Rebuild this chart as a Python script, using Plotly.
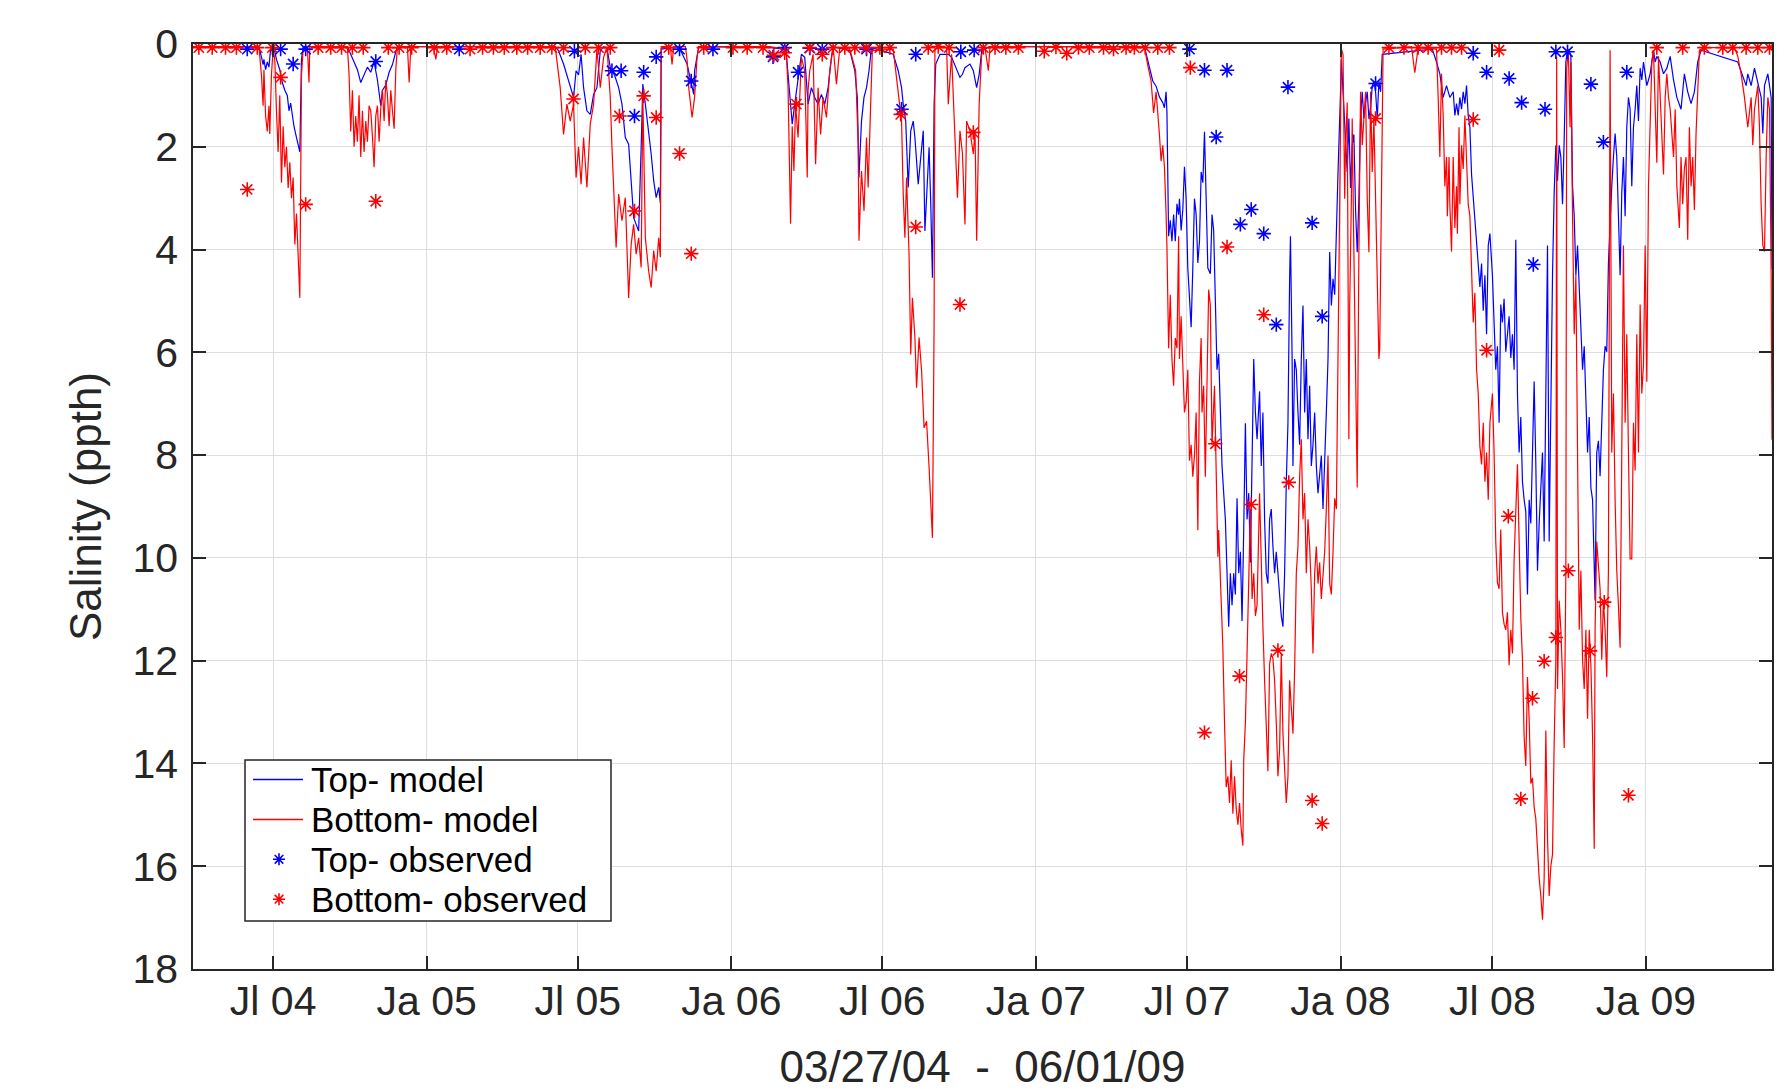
import plotly.graph_objects as go

# ---------------- data ----------------
tick_dates = ['2004-07-01', '2005-01-01', '2005-07-01', '2006-01-01', '2006-07-01',
              '2007-01-01', '2007-07-01', '2008-01-01', '2008-07-01', '2009-01-01']
tick_labels = ['Jl 04', 'Ja 05', 'Jl 05', 'Ja 06', 'Jl 06', 'Ja 07', 'Jl 07', 'Ja 08', 'Jl 08', 'Ja 09']
y_ticks = [0, 2, 4, 6, 8, 10, 12, 14, 16, 18]

top_model_dates = [
    '2004-03-27', '2004-06-12', '2004-06-14', '2004-06-17', '2004-06-19', '2004-06-20', '2004-06-22', '2004-06-24',
    '2004-06-26', '2004-06-28', '2004-07-03', '2004-07-05', '2004-07-09', '2004-07-12', '2004-07-15', '2004-07-18',
    '2004-07-20', '2004-07-22', '2004-07-24', '2004-07-26', '2004-07-28', '2004-07-30', '2004-08-02', '2004-08-04',
    '2004-08-06', '2004-09-28', '2004-10-02', '2004-10-06', '2004-10-10', '2004-10-14', '2004-10-18', '2004-10-22',
    '2004-10-26', '2004-10-30', '2004-11-03', '2004-11-07', '2004-11-09', '2004-11-13', '2004-11-17', '2004-11-21',
    '2004-11-25', '2004-11-27',
    '2005-06-04', '2005-06-08', '2005-06-14', '2005-06-18', '2005-06-22', '2005-06-26', '2005-06-29', '2005-07-02',
    '2005-07-05', '2005-07-08', '2005-07-12', '2005-07-16', '2005-07-20', '2005-07-24', '2005-07-28', '2005-08-01',
    '2005-08-05', '2005-08-09', '2005-08-14', '2005-08-19', '2005-08-23', '2005-08-27', '2005-08-31', '2005-09-03',
    '2005-09-06', '2005-09-09', '2005-09-12', '2005-09-15', '2005-09-17', '2005-09-20', '2005-09-24', '2005-09-27',
    '2005-09-30', '2005-10-03', '2005-10-06', '2005-10-08', '2005-10-09', '2005-10-30', '2005-11-09', '2005-11-13',
    '2005-11-15', '2005-11-17', '2005-11-18', '2005-11-21', '2005-11-23',
    '2006-02-16', '2006-03-06', '2006-03-08', '2006-03-12', '2006-03-15', '2006-03-18', '2006-03-22', '2006-03-26',
    '2006-03-30', '2006-04-03', '2006-04-07', '2006-04-11', '2006-04-15', '2006-04-19', '2006-04-23', '2006-04-27',
    '2006-05-01', '2006-05-03', '2006-05-23', '2006-05-29', '2006-06-01', '2006-06-03', '2006-06-06', '2006-06-09',
    '2006-06-12', '2006-06-15', '2006-06-18', '2006-07-14', '2006-07-20', '2006-07-24', '2006-07-26', '2006-07-29',
    '2006-08-01', '2006-08-04', '2006-08-07', '2006-08-09', '2006-08-13', '2006-08-16', '2006-08-19', '2006-08-21',
    '2006-08-24', '2006-08-26', '2006-08-28', '2006-08-30', '2006-09-01', '2006-09-03', '2006-09-08', '2006-09-18',
    '2006-09-22', '2006-09-29', '2006-10-02', '2006-10-05', '2006-10-08', '2006-10-14', '2006-10-18', '2006-10-22',
    '2006-10-25', '2006-10-28', '2006-11-07',
    '2007-05-11', '2007-05-15', '2007-05-21', '2007-05-25', '2007-05-29', '2007-06-02', '2007-06-04', '2007-06-06',
    '2007-06-07', '2007-06-09', '2007-06-11', '2007-06-13', '2007-06-15', '2007-06-17', '2007-06-19', '2007-06-21',
    '2007-06-22', '2007-06-24', '2007-06-26', '2007-06-28', '2007-06-30', '2007-07-02', '2007-07-04', '2007-07-06',
    '2007-07-08', '2007-07-10', '2007-07-12', '2007-07-14', '2007-07-16', '2007-07-18', '2007-07-20', '2007-07-22',
    '2007-07-24', '2007-07-26', '2007-07-29', '2007-07-31', '2007-08-02', '2007-08-04', '2007-08-06', '2007-08-08',
    '2007-08-10', '2007-08-12', '2007-08-14', '2007-08-16', '2007-08-18', '2007-08-20', '2007-08-22', '2007-08-24',
    '2007-08-26', '2007-08-28', '2007-08-30', '2007-09-01', '2007-09-03', '2007-09-05', '2007-09-07', '2007-09-09',
    '2007-09-11', '2007-09-13', '2007-09-15', '2007-09-17', '2007-09-19', '2007-09-21', '2007-09-23', '2007-09-26',
    '2007-09-28', '2007-09-30', '2007-10-02', '2007-10-04', '2007-10-06', '2007-10-08', '2007-10-10', '2007-10-12',
    '2007-10-14', '2007-10-16', '2007-10-18', '2007-10-20', '2007-10-22', '2007-10-24', '2007-10-26', '2007-10-28',
    '2007-10-30', '2007-11-01', '2007-11-02', '2007-11-04', '2007-11-05', '2007-11-07', '2007-11-09', '2007-11-11',
    '2007-11-13', '2007-11-15', '2007-11-17', '2007-11-19', '2007-11-21', '2007-11-23', '2007-11-25', '2007-11-27',
    '2007-11-29', '2007-12-01', '2007-12-03', '2007-12-05', '2007-12-07', '2007-12-09', '2007-12-11', '2007-12-13',
    '2007-12-15', '2007-12-17', '2007-12-19', '2007-12-21', '2007-12-23', '2007-12-25', '2007-12-27', '2007-12-29',
    '2008-01-01', '2008-01-02', '2008-01-04', '2008-01-07', '2008-01-09', '2008-01-11', '2008-01-13', '2008-01-15',
    '2008-01-17', '2008-01-19', '2008-01-21', '2008-01-23', '2008-01-25', '2008-01-27', '2008-01-29', '2008-01-31',
    '2008-02-02', '2008-02-04', '2008-02-06', '2008-02-08', '2008-02-10', '2008-02-12', '2008-02-14', '2008-02-16',
    '2008-02-18', '2008-02-20',
    '2008-04-20', '2008-04-25', '2008-04-29', '2008-05-03', '2008-05-07', '2008-05-11', '2008-05-15', '2008-05-17',
    '2008-05-19', '2008-05-21', '2008-05-23', '2008-05-25', '2008-05-27', '2008-05-29', '2008-05-31', '2008-06-02',
    '2008-06-04', '2008-06-06', '2008-06-08', '2008-06-10', '2008-06-12', '2008-06-14', '2008-06-16', '2008-06-18',
    '2008-06-20', '2008-06-22', '2008-06-24', '2008-06-26', '2008-06-28', '2008-07-01', '2008-07-03', '2008-07-05',
    '2008-07-07', '2008-07-09', '2008-07-11', '2008-07-13', '2008-07-15', '2008-07-17', '2008-07-19', '2008-07-21',
    '2008-07-23', '2008-07-25', '2008-07-27', '2008-07-29', '2008-07-31', '2008-08-02', '2008-08-04', '2008-08-06',
    '2008-08-08', '2008-08-10', '2008-08-12', '2008-08-14', '2008-08-16', '2008-08-18', '2008-08-20', '2008-08-22',
    '2008-08-24', '2008-08-26', '2008-08-28', '2008-08-30', '2008-09-01', '2008-09-03', '2008-09-05', '2008-09-07',
    '2008-09-09', '2008-09-11', '2008-09-13', '2008-09-15', '2008-09-17', '2008-09-19', '2008-09-21', '2008-09-23',
    '2008-09-25', '2008-09-27', '2008-09-29', '2008-10-01', '2008-10-03', '2008-10-05', '2008-10-07', '2008-10-09',
    '2008-10-11', '2008-10-13', '2008-10-15', '2008-10-17', '2008-10-19', '2008-10-21', '2008-10-23', '2008-10-25',
    '2008-10-27', '2008-10-29', '2008-11-01', '2008-11-03', '2008-11-05', '2008-11-07', '2008-11-09', '2008-11-11',
    '2008-11-13', '2008-11-15', '2008-11-17', '2008-11-19', '2008-11-21', '2008-11-23', '2008-11-25', '2008-11-27',
    '2008-11-29', '2008-12-01', '2008-12-03', '2008-12-05', '2008-12-07', '2008-12-09', '2008-12-11', '2008-12-13',
    '2008-12-15', '2008-12-17', '2008-12-19', '2008-12-21', '2008-12-23', '2008-12-25', '2008-12-27', '2008-12-29',
    '2008-12-31', '2009-01-02', '2009-01-04', '2009-01-06', '2009-01-10', '2009-01-12', '2009-01-14', '2009-01-18',
    '2009-01-22', '2009-01-26', '2009-01-30', '2009-02-03', '2009-02-07', '2009-02-12', '2009-02-16', '2009-02-20',
    '2009-02-24', '2009-02-28', '2009-03-04', '2009-03-08', '2009-04-21', '2009-05-01', '2009-05-03', '2009-05-07',
    '2009-05-11', '2009-05-19', '2009-05-21', '2009-05-23', '2009-05-27', '2009-05-31', '2009-06-01']
top_model_vals = [
    0.05, 0.05, 0.05, 0.25, 0.4, 0.3, 0.5, 0.35,
    0.45, 0.1, 0.15, 0.3, 0.5, 0.75, 0.9, 1.0,
    1.3, 1.15, 1.4, 1.6, 1.75, 1.9, 2.1, 0.3,
    0.05, 0.05, 0.2, 0.35, 0.5, 0.75, 0.6, 0.45,
    0.55, 0.35, 0.7, 1.2, 0.9, 0.8, 0.55, 0.4,
    0.15, 0.05,
    0.05, 0.13, 0.39, 0.6, 0.85, 1.04, 0.52, 0.6,
    0.2, 0.85, 1.3, 1.37, 0.98, 0.85, 0.13, 0.05,
    0.07, 0.46, 0.6, 0.85, 1.17, 1.82, 1.95, 2.73,
    3.38, 3.51, 3.64, 2.01, 0.78, 1.17, 1.69, 2.14,
    2.66, 2.99, 2.79, 3.1, 0.1, 0.05, 0.39, 0.72,
    0.85, 0.98, 0.52, 0.2, 0.05,
    0.07, 0.1, 0.2, 1.04, 1.56, 1.17, 0.72, 0.2,
    0.26, 1.17, 0.85, 1.04, 1.17, 0.98, 1.17, 0.85,
    0.26, 0.05, 0.13, 0.52, 1.04, 2.6, 1.5, 1.04,
    0.85, 0.52, 0.07, 0.2, 0.52, 0.85, 1.17, 1.5,
    2.79, 1.69, 1.5, 1.82, 2.73, 2.14, 1.69, 3.64,
    2.6, 2.01, 3.12, 4.55, 1.17, 0.39, 0.2, 0.2,
    0.26, 0.52, 0.65, 0.59, 0.46, 0.39, 0.52, 0.85,
    0.59, 0.13, 0.05,
    0.05, 0.3, 0.72, 0.82, 1.03, 1.14, 1.24, 0.93,
    1.34, 3.74, 3.43, 3.84, 3.32, 3.84, 3.11, 3.32,
    3.01, 3.63, 3.22, 2.39, 3.01, 4.36, 4.88, 5.51,
    4.36, 3.01, 3.32, 4.26, 3.84, 2.49, 2.7, 1.71,
    3.01, 4.36, 4.47, 3.32, 3.63, 4.78, 6.34, 6.03,
    7.17, 8.21, 8.74, 9.25, 10.3, 11.34, 10.3, 10.92,
    10.3, 10.71, 8.84, 10.3, 9.88, 11.23, 9.46, 7.38,
    9.25, 8.74, 10.09, 8.21, 6.13, 7.17, 7.69, 6.76,
    8.21, 7.17, 9.25, 10.3, 10.5, 9.25, 9.05, 9.78,
    10.3, 9.88, 10.3, 10.71, 11.13, 11.34, 10.3, 8.53,
    7.38, 4.57, 3.74, 6.13, 8.21, 6.13, 6.34, 7.17,
    7.8, 6.13, 5.09, 7.17, 6.13, 7.69, 6.65, 8.21,
    7.8, 7.17, 8.21, 8.74, 8.42, 8.01, 9.05, 8.21,
    7.17, 6.13, 4.05, 5.09, 4.57, 4.88, 3.53, 2.49,
    0.93, 0.3, 0.93, 1.97, 2.49, 1.45, 2.8, 1.97,
    1.76, 3.22, 4.05, 3.01, 1.45, 0.93, 1.45, 1.14,
    0.93, 1.45, 1.24, 0.82, 0.72, 0.93, 1.45, 0.72,
    0.93, 0.2,
    0.1, 0.35, 0.58, 1.04, 0.81, 1.04, 0.93, 1.39,
    1.16, 1.39, 1.04, 1.27, 0.93, 1.16, 0.81, 1.39,
    1.62, 2.54, 3.0, 3.35, 3.81, 4.27, 4.73, 4.27,
    5.19, 4.5, 5.65, 3.92, 3.69, 4.5, 5.3, 6.34,
    5.88, 7.37, 5.07, 5.42, 4.96, 5.99, 5.65, 5.3,
    6.11, 5.65, 6.34, 3.81, 6.8, 7.95, 7.26, 8.52,
    8.87, 9.1, 10.71, 8.87, 9.33, 7.95, 6.57, 8.18,
    10.25, 9.33, 8.64, 7.95, 9.68, 6.8, 3.92, 9.68,
    6.8, 4.5, 2.89, 1.97, 2.66, 1.97, 2.2, 3.12,
    1.85, 0.35, 0.12, 0.12, 0.24, 2.77, 3.35, 4.5,
    3.92, 4.73, 5.3, 6.34, 5.88, 6.8, 7.95, 7.26,
    8.64, 8.87, 10.83, 7.95, 7.72, 8.41, 7.26, 6.34,
    5.88, 5.99, 4.27, 3.35, 2.77, 2.2, 1.74, 2.2,
    3.35, 4.5, 2.89, 2.2, 3.35, 1.62, 1.04, 1.27,
    2.77, 1.62, 1.27, 0.81, 1.5, 0.47, 0.7, 0.35,
    0.58, 0.81, 0.7, 0.58, 0.12, 0.35, 0.24, 0.35,
    0.58, 0.47, 0.24, 0.7, 1.04, 1.27, 0.58, 0.93,
    1.16, 0.93, 0.35, 0.12, 0.35, 0.81, 0.58, 0.81,
    0.47, 1.04, 1.74, 0.81, 0.58, 1.04, 4.38]

bottom_model_dates = [
    '2004-03-27', '2004-06-14', '2004-06-17', '2004-06-19', '2004-06-20', '2004-06-22', '2004-06-24', '2004-06-26',
    '2004-06-27', '2004-06-29', '2004-07-01', '2004-07-03', '2004-07-05', '2004-07-07', '2004-07-09', '2004-07-11',
    '2004-07-13', '2004-07-15', '2004-07-17', '2004-07-19', '2004-07-21', '2004-07-23', '2004-07-25', '2004-07-27',
    '2004-07-29', '2004-07-31', '2004-08-02', '2004-08-04', '2004-08-06', '2004-08-11', '2004-08-13', '2004-08-14',
    '2004-09-28', '2004-09-30', '2004-10-02', '2004-10-04', '2004-10-06', '2004-10-08', '2004-10-10', '2004-10-12',
    '2004-10-14', '2004-10-16', '2004-10-18', '2004-10-20', '2004-10-22', '2004-10-24', '2004-10-26', '2004-10-28',
    '2004-10-30', '2004-11-01', '2004-11-03', '2004-11-05', '2004-11-07', '2004-11-09', '2004-11-11', '2004-11-13',
    '2004-11-15', '2004-11-17', '2004-11-19', '2004-11-21', '2004-11-23', '2004-11-25', '2004-11-27', '2004-12-09',
    '2004-12-11', '2004-12-13', '2005-01-09', '2005-01-12', '2005-01-14',
    '2005-06-04', '2005-06-10', '2005-06-14', '2005-06-18', '2005-06-22', '2005-06-26', '2005-06-29', '2005-07-02',
    '2005-07-05', '2005-07-08', '2005-07-12', '2005-07-16', '2005-07-20', '2005-07-24', '2005-07-28', '2005-08-01',
    '2005-08-05', '2005-08-09', '2005-08-11', '2005-08-14', '2005-08-16', '2005-08-19', '2005-08-23', '2005-08-27',
    '2005-08-31', '2005-09-03', '2005-09-06', '2005-09-09', '2005-09-12', '2005-09-15', '2005-09-17', '2005-09-20',
    '2005-09-24', '2005-09-27', '2005-09-30', '2005-10-03', '2005-10-06', '2005-10-08', '2005-10-09', '2005-10-20',
    '2005-10-22', '2005-10-24', '2005-11-07', '2005-11-09', '2005-11-11', '2005-11-15', '2005-11-18', '2005-11-21',
    '2005-11-23',
    '2006-02-16', '2006-03-06', '2006-03-08', '2006-03-10', '2006-03-13', '2006-03-15', '2006-03-17', '2006-03-19',
    '2006-03-22', '2006-03-26', '2006-03-30', '2006-04-02', '2006-04-03', '2006-04-05', '2006-04-09', '2006-04-12',
    '2006-04-15', '2006-04-18', '2006-04-21', '2006-04-25', '2006-04-29', '2006-05-03', '2006-05-07', '2006-05-11',
    '2006-05-23', '2006-05-30', '2006-06-02', '2006-06-03', '2006-06-06', '2006-06-09', '2006-06-12', '2006-06-14',
    '2006-06-17', '2006-06-19', '2006-07-14', '2006-07-16', '2006-07-20', '2006-07-24', '2006-07-26', '2006-07-28',
    '2006-07-30', '2006-08-02', '2006-08-04', '2006-08-06', '2006-08-09', '2006-08-11', '2006-08-14', '2006-08-17',
    '2006-08-20', '2006-08-23', '2006-08-26', '2006-08-28', '2006-08-30', '2006-09-01', '2006-09-02', '2006-09-06',
    '2006-09-16', '2006-09-18', '2006-09-22', '2006-09-26', '2006-09-29', '2006-10-02', '2006-10-05', '2006-10-08',
    '2006-10-10', '2006-10-14', '2006-10-18', '2006-10-20', '2006-10-22', '2006-10-25', '2006-10-28', '2006-11-01',
    '2006-11-05', '2006-11-07',
    '2007-05-11', '2007-05-15', '2007-05-19', '2007-05-22', '2007-05-25', '2007-05-29', '2007-05-31', '2007-06-02',
    '2007-06-04', '2007-06-06', '2007-06-07', '2007-06-09', '2007-06-11', '2007-06-13', '2007-06-15', '2007-06-17',
    '2007-06-19', '2007-06-21', '2007-06-22', '2007-06-24', '2007-06-26', '2007-06-28', '2007-06-30', '2007-07-02',
    '2007-07-04', '2007-07-06', '2007-07-08', '2007-07-10', '2007-07-12', '2007-07-14', '2007-07-16', '2007-07-18',
    '2007-07-19', '2007-07-21', '2007-07-23', '2007-07-25', '2007-07-27', '2007-07-29', '2007-07-31', '2007-08-03',
    '2007-08-05', '2007-08-07', '2007-08-08', '2007-08-11', '2007-08-13', '2007-08-15', '2007-08-17', '2007-08-19',
    '2007-08-21', '2007-08-23', '2007-08-25', '2007-08-27', '2007-08-29', '2007-08-31', '2007-09-02', '2007-09-04',
    '2007-09-06', '2007-09-07', '2007-09-09', '2007-09-11', '2007-09-13', '2007-09-15', '2007-09-17', '2007-09-19',
    '2007-09-21', '2007-09-23', '2007-09-26', '2007-09-28', '2007-09-30', '2007-10-02', '2007-10-04', '2007-10-06',
    '2007-10-08', '2007-10-10', '2007-10-12', '2007-10-14', '2007-10-16', '2007-10-18', '2007-10-20', '2007-10-22',
    '2007-10-24', '2007-10-26', '2007-10-28', '2007-10-30', '2007-11-01', '2007-11-03', '2007-11-05', '2007-11-07',
    '2007-11-09', '2007-11-11', '2007-11-13', '2007-11-15', '2007-11-17', '2007-11-19', '2007-11-21', '2007-11-23',
    '2007-11-25', '2007-11-27', '2007-11-29', '2007-12-01', '2007-12-03', '2007-12-05', '2007-12-07', '2007-12-09',
    '2007-12-11', '2007-12-13', '2007-12-15', '2007-12-17', '2007-12-19', '2007-12-21', '2007-12-23', '2007-12-25',
    '2007-12-27', '2007-12-29', '2008-01-01', '2008-01-02', '2008-01-04', '2008-01-06', '2008-01-07', '2008-01-09',
    '2008-01-11', '2008-01-12', '2008-01-14', '2008-01-15', '2008-01-17', '2008-01-19', '2008-01-21', '2008-01-23',
    '2008-01-25', '2008-01-27', '2008-01-29', '2008-01-31', '2008-02-02', '2008-02-04', '2008-02-06', '2008-02-08',
    '2008-02-10', '2008-02-12', '2008-02-14', '2008-02-16', '2008-02-17', '2008-02-19', '2008-02-21',
    '2008-03-26', '2008-03-30', '2008-04-03', '2008-04-25', '2008-04-27', '2008-04-29', '2008-05-01', '2008-05-03',
    '2008-05-05', '2008-05-07', '2008-05-08', '2008-05-10', '2008-05-11', '2008-05-13', '2008-05-15', '2008-05-17',
    '2008-05-19', '2008-05-20', '2008-05-22', '2008-05-23', '2008-05-25', '2008-05-27', '2008-05-29', '2008-05-31',
    '2008-06-02', '2008-06-04', '2008-06-06', '2008-06-08', '2008-06-10', '2008-06-12', '2008-06-14', '2008-06-16',
    '2008-06-18', '2008-06-20', '2008-06-22', '2008-06-24', '2008-06-26', '2008-06-28', '2008-07-01', '2008-07-03',
    '2008-07-05', '2008-07-07', '2008-07-09', '2008-07-11', '2008-07-13', '2008-07-15', '2008-07-17', '2008-07-19',
    '2008-07-21', '2008-07-23', '2008-07-25', '2008-07-27', '2008-07-29', '2008-07-31', '2008-08-02', '2008-08-04',
    '2008-08-06', '2008-08-08', '2008-08-10', '2008-08-12', '2008-08-14', '2008-08-16', '2008-08-18', '2008-08-20',
    '2008-08-22', '2008-08-24', '2008-08-26', '2008-08-28', '2008-08-30', '2008-09-01', '2008-09-03', '2008-09-05',
    '2008-09-07', '2008-09-09', '2008-09-11', '2008-09-13', '2008-09-15', '2008-09-16', '2008-09-17', '2008-09-19',
    '2008-09-21', '2008-09-23', '2008-09-25', '2008-09-26', '2008-09-27', '2008-09-28', '2008-09-30', '2008-10-02',
    '2008-10-03', '2008-10-05', '2008-10-07', '2008-10-09', '2008-10-11', '2008-10-13', '2008-10-15', '2008-10-17',
    '2008-10-19', '2008-10-21', '2008-10-23', '2008-10-25', '2008-10-27', '2008-10-29', '2008-10-31', '2008-11-01',
    '2008-11-03', '2008-11-05', '2008-11-07', '2008-11-09', '2008-11-11', '2008-11-13', '2008-11-15', '2008-11-17',
    '2008-11-19', '2008-11-21', '2008-11-23', '2008-11-25', '2008-11-27', '2008-11-29', '2008-12-01', '2008-12-03',
    '2008-12-05', '2008-12-07', '2008-12-09', '2008-12-11', '2008-12-13', '2008-12-15', '2008-12-17', '2008-12-19',
    '2008-12-21', '2008-12-23', '2008-12-25', '2008-12-27', '2008-12-29', '2008-12-31', '2009-01-02', '2009-01-04',
    '2009-01-06', '2009-01-08', '2009-01-10', '2009-01-12', '2009-01-14', '2009-01-16', '2009-01-18', '2009-01-20',
    '2009-01-22', '2009-01-24', '2009-01-26', '2009-01-28', '2009-01-30', '2009-02-01', '2009-02-03', '2009-02-05',
    '2009-02-07', '2009-02-10', '2009-02-12', '2009-02-14', '2009-02-16', '2009-02-18', '2009-02-20', '2009-02-22',
    '2009-02-24', '2009-02-26', '2009-02-28', '2009-03-02', '2009-03-04', '2009-03-06', '2009-03-12', '2009-04-17',
    '2009-04-21', '2009-04-25', '2009-04-29', '2009-05-03', '2009-05-07', '2009-05-09', '2009-05-11', '2009-05-15',
    '2009-05-17', '2009-05-19', '2009-05-21', '2009-05-23', '2009-05-25', '2009-05-27', '2009-05-29', '2009-05-31',
    '2009-06-01']
bottom_model_vals = [
    0.05, 0.05, 0.6, 1.2, 0.5, 1.4, 1.7, 1.2,
    1.75, 0.6, 0.1, 0.3, 1.3, 2.1, 1.0, 2.7,
    1.6, 2.4, 2.0, 2.8, 2.3, 3.0, 2.6, 3.9,
    3.3, 4.2, 4.94, 0.6, 0.1, 0.05, 0.75, 0.05,
    0.05, 0.6, 1.7, 0.9, 2.0, 1.4, 1.9, 1.0,
    2.2, 1.3, 2.1, 1.5, 1.9, 1.2, 1.3, 1.8,
    2.4, 1.4, 1.2, 1.9, 1.25, 0.9, 1.5, 0.7,
    1.0, 1.6, 0.9, 1.3, 1.65, 0.5, 0.05, 0.05,
    0.75, 0.05, 0.05, 0.3, 0.05,
    0.05, 0.85, 1.76, 1.17, 1.5, 1.17, 2.6, 2.0,
    2.73, 1.82, 2.79, 1.56, 1.17, 0.1, 0.85, 0.26,
    0.05, 1.04, 2.0, 3.12, 3.96, 2.92, 3.44, 2.99,
    4.94, 3.9, 3.51, 4.09, 3.77, 4.35, 1.0, 3.77,
    4.42, 4.74, 4.02, 4.42, 3.77, 4.15, 0.05, 0.05,
    0.4, 0.05, 0.05, 0.3, 0.85, 1.43, 1.04, 0.26,
    0.05,
    0.05, 0.1, 0.2, 0.85, 3.5, 1.6, 2.47, 1.17,
    1.82, 0.26, 0.52, 2.6, 0.9, 0.52, 0.2, 2.34,
    0.85, 1.76, 1.04, 1.43, 0.52, 0.05, 0.78, 0.07,
    0.1, 0.52, 1.95, 3.83, 2.47, 3.25, 1.82, 2.79,
    1.17, 0.13, 0.1, 0.39, 0.85, 1.5, 2.92, 3.77,
    2.6, 4.09, 6.04, 4.94, 5.71, 6.69, 5.71, 6.36,
    7.47, 7.34, 8.24, 8.96, 9.61, 5.45, 0.1, 0.07,
    0.07, 1.17, 0.2, 1.82, 2.99, 1.69, 2.14, 3.51,
    1.5, 1.69, 2.14, 1.69, 3.83, 1.17, 0.2, 0.07,
    0.52, 0.05,
    0.05, 0.41, 0.72, 1.34, 0.93, 1.76, 2.28, 1.97,
    2.39, 3.32, 3.95, 5.92, 4.88, 6.13, 6.65, 5.72,
    5.92, 3.74, 6.13, 5.3, 6.34, 7.17, 6.97, 6.34,
    8.11, 7.8, 8.42, 8.01, 7.17, 9.46, 6.55, 5.72,
    7.17, 6.65, 8.42, 6.65, 4.78, 5.09, 7.8, 6.65,
    8.01, 9.98, 9.46, 10.92, 11.75, 13.21, 14.46, 14.25,
    14.77, 13.94, 14.98, 14.25, 14.88, 15.19, 14.77, 15.29,
    15.6, 13.94, 13.21, 11.86, 10.3, 9.05, 10.8, 10.3,
    11.13, 10.92, 8.74, 10.3, 11.34, 12.38, 13.42, 14.15,
    12.07, 11.86, 11.96, 12.38, 13.21, 14.25, 13.73, 11.86,
    13.42, 14.04, 14.77, 14.25, 12.38, 12.9, 13.42, 12.17,
    10.3, 9.78, 8.42, 7.69, 9.25, 8.74, 10.3, 9.25,
    9.78, 10.61, 11.86, 10.3, 9.78, 10.5, 10.09, 10.8,
    10.3, 9.88, 9.05, 8.01, 10.5, 10.71, 9.88, 8.84,
    9.05, 6.34, 1.76, 0.1, 0.2, 3.01, 1.97, 1.14,
    7.69, 5.09, 3.01, 1.45, 4.05, 6.13, 8.63, 4.05,
    0.93, 1.97, 1.45, 0.93, 3.01, 4.05, 0.93, 2.49,
    1.45, 3.01, 5.09, 6.13, 5.92, 3.01, 0.1,
    0.05, 0.56, 0.07, 0.1, 1.04, 2.2, 0.58, 1.39,
    2.77, 2.2, 3.35, 2.2, 3.12, 4.04, 2.2, 3.58,
    2.77, 3.69, 1.62, 3.12, 1.97, 2.43, 1.39, 2.2,
    3.12, 3.35, 4.27, 5.42, 4.84, 6.34, 6.8, 7.83,
    8.18, 7.37, 8.52, 7.95, 8.87, 7.37, 6.8, 7.95,
    9.68, 10.48, 10.6, 9.45, 11.06, 11.29, 11.4, 11.06,
    12.09, 11.4, 11.86, 10.02, 9.1, 8.18, 9.68, 11.17,
    11.98, 13.47, 14.05, 12.32, 13.13, 14.39, 14.28, 14.85,
    15.08, 15.77, 16.23, 16.58, 17.04, 16.23, 13.36, 15.43,
    16.58, 16.0, 15.77, 13.59, 11.98, 0.25, 12.55, 10.83,
    11.4, 12.32, 13.7, 11.98, 10.25, 0.47, 0.12, 1.62,
    0.35, 3.35, 5.65, 4.5, 7.95, 11.4, 10.25, 11.98,
    12.55, 11.4, 13.13, 11.4, 12.09, 13.47, 15.66, 11.4,
    9.68, 10.25, 10.6, 11.98, 10.83, 11.4, 12.32, 10.25,
    0.12, 7.95, 6.8, 8.87, 10.25, 10.94, 11.75, 7.95,
    3.92, 7.37, 5.65, 7.95, 10.02, 10.02, 7.37, 8.3,
    5.65, 7.95, 5.07, 6.8, 6.23, 3.92, 6.57, 2.77,
    1.62, 0.35, 0.12, 1.04, 2.31, 0.24, 1.04, 1.74,
    2.54, 1.04, 0.58, 1.04, 1.27, 1.74, 2.2, 1.27,
    2.77, 3.58, 2.2, 3.12, 2.43, 2.2, 3.81, 1.62,
    2.77, 2.2, 3.23, 1.74, 0.81, 0.12, 0.07, 0.07,
    0.24, 0.58, 1.04, 1.62, 1.04, 1.97, 1.27, 0.81,
    1.62, 3.12, 3.92, 4.04, 2.2, 1.04, 1.27, 4.5,
    7.7]

top_obs_dates = [
    '2004-05-31', '2004-07-10', '2004-07-25', '2004-08-09', '2004-11-01',
    '2005-02-09', '2005-06-27', '2005-08-11', '2005-08-22', '2005-09-07', '2005-09-18', '2005-10-03',
    '2005-10-31', '2005-11-14', '2005-12-10',
    '2006-02-20', '2006-03-06', '2006-03-22', '2006-04-05', '2006-04-20', '2006-06-12', '2006-07-24',
    '2006-08-10', '2006-10-03', '2006-10-19',
    '2007-07-04', '2007-07-22', '2007-08-05', '2007-08-18', '2007-09-03', '2007-09-16', '2007-10-01',
    '2007-10-16', '2007-10-30', '2007-11-28', '2007-12-10',
    '2008-02-12', '2008-06-08', '2008-06-24', '2008-07-21', '2008-08-05', '2008-08-19', '2008-09-02',
    '2008-09-15', '2008-09-29', '2008-10-27', '2008-11-11', '2008-12-09']
top_obs_vals = [
    0.1, 0.1, 0.39, 0.1, 0.34,
    0.1, 0.14, 0.52, 0.52, 1.4, 0.55, 0.25,
    0.1, 0.72, 0.1,
    0.25, 0.07, 0.55, 0.08, 0.1, 0.1, 1.27,
    0.2, 0.15, 0.12,
    0.1, 0.51, 1.81, 0.51, 3.51, 3.22, 3.69,
    5.46, 0.84, 3.48, 5.3,
    0.77, 0.18, 0.55, 0.67, 1.14, 4.29, 1.27,
    0.15, 0.15, 0.78, 1.91, 0.55]

bottom_obs_dates = [
    '2004-04-03', '2004-04-19', '2004-05-05', '2004-05-18', '2004-05-31', '2004-06-12', '2004-06-30',
    '2004-07-10', '2004-08-09', '2004-08-24', '2004-09-08', '2004-09-21', '2004-10-04', '2004-10-17',
    '2004-11-01', '2004-11-16', '2004-11-29', '2004-12-14',
    '2005-01-10', '2005-01-25', '2005-02-22', '2005-03-09', '2005-03-22', '2005-04-04', '2005-04-19',
    '2005-05-02', '2005-05-17', '2005-05-31', '2005-06-14', '2005-06-26', '2005-07-10', '2005-07-26',
    '2005-08-09', '2005-08-20', '2005-09-07', '2005-09-18', '2005-10-03', '2005-10-18', '2005-10-31',
    '2005-11-14', '2005-11-29',
    '2006-01-03', '2006-01-20', '2006-02-08', '2006-02-21', '2006-03-06', '2006-03-20', '2006-04-05',
    '2006-04-20', '2006-05-03', '2006-05-17', '2006-05-29', '2006-06-12', '2006-06-28', '2006-07-10',
    '2006-07-23', '2006-08-10', '2006-08-25', '2006-09-06', '2006-09-19', '2006-10-02', '2006-10-18',
    '2006-10-30', '2006-11-13', '2006-11-26', '2006-12-11',
    '2007-01-11', '2007-01-25', '2007-02-07', '2007-02-21', '2007-03-06', '2007-03-23', '2007-04-04',
    '2007-04-19', '2007-04-29', '2007-05-12', '2007-05-27', '2007-06-10', '2007-07-05', '2007-07-22',
    '2007-08-04', '2007-08-18', '2007-09-02', '2007-09-16', '2007-10-01', '2007-10-18', '2007-10-31',
    '2007-11-28', '2007-12-10',
    '2008-02-12', '2008-02-28', '2008-03-17', '2008-04-03', '2008-04-15', '2008-05-01', '2008-05-13',
    '2008-05-25', '2008-06-08', '2008-06-24', '2008-07-09', '2008-07-20', '2008-08-04', '2008-08-18',
    '2008-09-01', '2008-09-15', '2008-09-30', '2008-10-26', '2008-11-12', '2008-12-11',
    '2009-01-14', '2009-02-14', '2009-03-12', '2009-04-03', '2009-04-15', '2009-05-01', '2009-05-15',
    '2009-05-29']
bottom_obs_vals = [
    0.07, 0.07, 0.07, 0.07, 2.83, 0.07, 0.07,
    0.65, 3.12, 0.07, 0.07, 0.07, 0.07, 0.07,
    3.06, 0.07, 0.07, 0.07,
    0.07, 0.07, 0.1, 0.07, 0.07, 0.07, 0.07,
    0.07, 0.07, 0.07, 0.07, 1.07, 0.07, 0.07,
    0.07, 1.4, 3.25, 1.01, 1.43, 0.07, 2.13,
    4.08, 0.07,
    0.07, 0.07, 0.07, 0.22, 0.17, 1.17, 0.07,
    0.2, 0.07, 0.07, 0.07, 0.07, 0.07, 0.07,
    1.37, 3.56, 0.07, 0.05, 0.07, 5.07, 1.72,
    0.07, 0.07, 0.07, 0.07,
    0.14, 0.06, 0.18, 0.07, 0.07, 0.07, 0.1,
    0.07, 0.07, 0.07, 0.07, 0.07, 0.46, 13.4,
    7.78, 3.95, 12.3, 8.96, 5.27, 11.8, 8.53,
    14.72, 15.17,
    1.45, 0.07, 0.07, 0.07, 0.07, 0.07, 0.07,
    0.07, 1.47, 5.96, 0.12, 9.19, 14.69, 12.73,
    12.01, 11.55, 10.25, 11.81, 10.86, 14.62,
    0.07, 0.07, 0.07, 0.07, 0.07, 0.07, 0.07,
    0.07]

series_names = ['Top- model', 'Bottom- model', 'Top- observed', 'Bottom- observed']
series_colors = ['#0000ff', '#ff0000', '#0000ff', '#ff0000']

# ---------------- figure ----------------
FONT = 'Liberation Sans, Arial, Helvetica, sans-serif'
AX = '#262626'
W, H = 1787, 1091
ML, MR, MT, MB = 193, 15, 44, 122
PW, PH = W - ML - MR, H - MT - MB

fig = go.Figure()
fig.add_trace(go.Scatter(x=top_model_dates, y=top_model_vals, mode='lines', name=series_names[0],
                         line=dict(color=series_colors[0], width=1.2)))
fig.add_trace(go.Scatter(x=bottom_model_dates, y=bottom_model_vals, mode='lines', name=series_names[1],
                         line=dict(color=series_colors[1], width=1.2)))
fig.add_trace(go.Scatter(x=top_obs_dates, y=top_obs_vals, mode='markers', name=series_names[2],
                         marker=dict(symbol='asterisk-open', size=12, color=series_colors[2],
                                     line=dict(color=series_colors[2], width=1.6))))
fig.add_trace(go.Scatter(x=bottom_obs_dates, y=bottom_obs_vals, mode='markers', name=series_names[3],
                         marker=dict(symbol='asterisk-open', size=12, color=series_colors[3],
                                     line=dict(color=series_colors[3], width=1.6))))

# ---- legend box (MATLAB style), drawn in paper coordinates ----
def px_x(p):
    return (p - ML) / PW

def px_y(p):
    return 1 - (p - MT) / PH

box_l, box_r, box_t, box_b = 245, 611, 760, 921
row_y = [779.5, 819.5, 859.3, 899.2]
shapes = [dict(type='rect', xref='paper', yref='paper', x0=px_x(box_l), x1=px_x(box_r),
               y0=px_y(box_b), y1=px_y(box_t), fillcolor='white',
               line=dict(color=AX, width=1.5), layer='above')]
annotations = []
star_path = 'M-6,0L6,0M0,-6L0,6M-4.3,-4.3L4.3,4.3M-4.3,4.3L4.3,-4.3'
for i, (name, col) in enumerate(zip(series_names, series_colors)):
    yy = px_y(row_y[i])
    if i < 2:
        shapes.append(dict(type='line', xref='paper', yref='paper', x0=px_x(253), x1=px_x(303),
                           y0=yy, y1=yy, line=dict(color=col, width=1.3), layer='above'))
    else:
        shapes.append(dict(type='path', xref='paper', yref='paper', xsizemode='pixel', ysizemode='pixel',
                           xanchor=px_x(279), yanchor=yy, path=star_path,
                           line=dict(color=col, width=1.6), layer='above'))
    annotations.append(dict(xref='paper', yref='paper', x=px_x(309), y=yy, xanchor='left', yanchor='middle',
                            text=name, showarrow=False, font=dict(size=35, color='black', family=FONT)))

fig.update_layout(
    width=W, height=H,
    margin=dict(l=ML, r=MR, t=MT, b=MB),
    paper_bgcolor='white', plot_bgcolor='white',
    font=dict(family=FONT, size=41, color=AX),
    showlegend=False,
    shapes=shapes,
    annotations=annotations,
    xaxis=dict(type='date', range=['2004-03-27', '2009-06-01'], tickmode='array',
               tickvals=tick_dates, ticktext=tick_labels, ticks='inside', ticklen=13,
               tickwidth=1.5, tickcolor=AX, showline=True, linecolor=AX, linewidth=1.5,
               mirror='ticks', showgrid=True, gridcolor='#dedede', gridwidth=1, zeroline=False,
               automargin=False, ticklabelstandoff=-5,
               title=dict(text='03/27/04\u00a0\u00a0-\u00a0\u00a006/01/09', font=dict(size=44), standoff=37)),
    yaxis=dict(range=[18, 0], tickmode='array', tickvals=y_ticks, ticks='inside', ticklen=13,
               tickwidth=1.5, tickcolor=AX, showline=True, linecolor=AX, linewidth=1.5,
               mirror='ticks', showgrid=True, gridcolor='#dedede', gridwidth=1, zeroline=False,
               automargin=False, ticklabelstandoff=5,
               title=dict(text='Salinity (ppth)', font=dict(size=44), standoff=17)),
)

fig.write_html('out.html')
